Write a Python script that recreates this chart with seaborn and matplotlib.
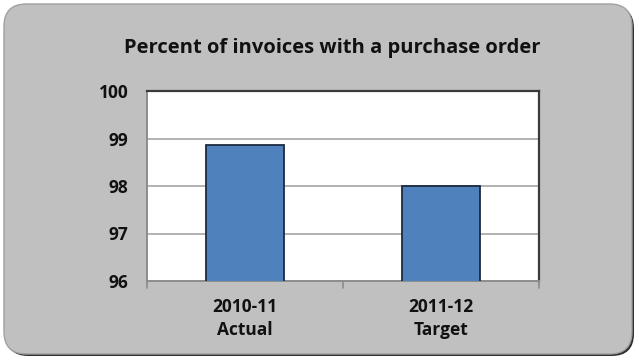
import matplotlib
matplotlib.use("Agg")
import matplotlib.pyplot as plt
from matplotlib.patches import FancyBboxPatch
import seaborn as sns
import pandas as pd

# Data
categories = ["2010-11\nActual", "2011-12\nTarget"]
values = [98.86, 98.0]
y_ticks = [96, 97, 98, 99, 100]
title = "Percent of invoices with a purchase order"

df = pd.DataFrame({"period": categories, "pct": values})

sns.set_theme(style="white")
plt.rcParams["font.family"] = ["Open Sans", "DejaVu Sans"]

W, H = 639, 360
fig = plt.figure(figsize=(W / 100, H / 100), dpi=100)
fig.patch.set_facecolor("white")


def fx(px):
    return px / W


def fy(py):
    return 1 - py / H


# Rounded grey panel with a thin drop shadow on the lower right
shadow = FancyBboxPatch((fx(6), fy(356)), fx(628), fy(5) - fy(355),
                        boxstyle="round,pad=0,rounding_size=0.035",
                        transform=fig.transFigure, facecolor="#303030",
                        edgecolor="none", zorder=-3, mutation_aspect=W / H)
fig.patches.append(shadow)
panel = FancyBboxPatch((fx(4), fy(354)), fx(628), fy(4) - fy(354),
                       boxstyle="round,pad=0,rounding_size=0.035",
                       transform=fig.transFigure, facecolor="#c0c0c0",
                       edgecolor="#a0a0a0", linewidth=1.0, zorder=-2,
                       mutation_aspect=W / H)
fig.patches.append(panel)

# Plot area
left, right, top, bottom = 147, 539, 91, 281
ax = fig.add_axes([fx(left), fy(bottom), fx(right - left), fy(top) - fy(bottom)])
ax.set_zorder(2)
ax.set_facecolor("white")

sns.barplot(data=df, x="period", y="pct", ax=ax, width=0.4,
            color="#4f81bd", saturation=1, edgecolor="#1c2a40",
            linewidth=1.3, zorder=3)

ax.set_ylim(96, 100)
ax.set_yticks(y_ticks)
ax.set_xlim(-0.5, 1.5)
ax.set_xlabel("")
ax.set_ylabel("")

for t in [97, 98, 99]:
    ax.axhline(t, color="#a6a6a6", linewidth=1.2, zorder=1)

for side in ["top", "right"]:
    ax.spines[side].set_color("#3a3a3a")
    ax.spines[side].set_linewidth(1.6)
for side in ["left", "bottom"]:
    ax.spines[side].set_color("#8c8c8c")
    ax.spines[side].set_linewidth(1.4)

ax.tick_params(axis="y", length=0, pad=13.5, labelsize=12.5)
ax.tick_params(axis="x", length=0, pad=12.5, labelsize=12.5)
for lbl in ax.get_yticklabels() + ax.get_xticklabels():
    lbl.set_fontweight("bold")
    lbl.set_color("#111111")
for lbl in ax.get_xticklabels():
    lbl.set_linespacing(1.35)

# Small category-boundary ticks under the x axis
for xb in [-0.5, 0.5, 1.5]:
    ax.plot([xb, xb], [0, -0.035], transform=ax.get_xaxis_transform(),
            color="#8c8c8c", linewidth=1.2, clip_on=False)

fig.text(fx(332), fy(48), title, ha="center", va="center",
         fontsize=14.5, fontweight="bold", color="#111111")

fig.savefig("out.png", dpi=100)
